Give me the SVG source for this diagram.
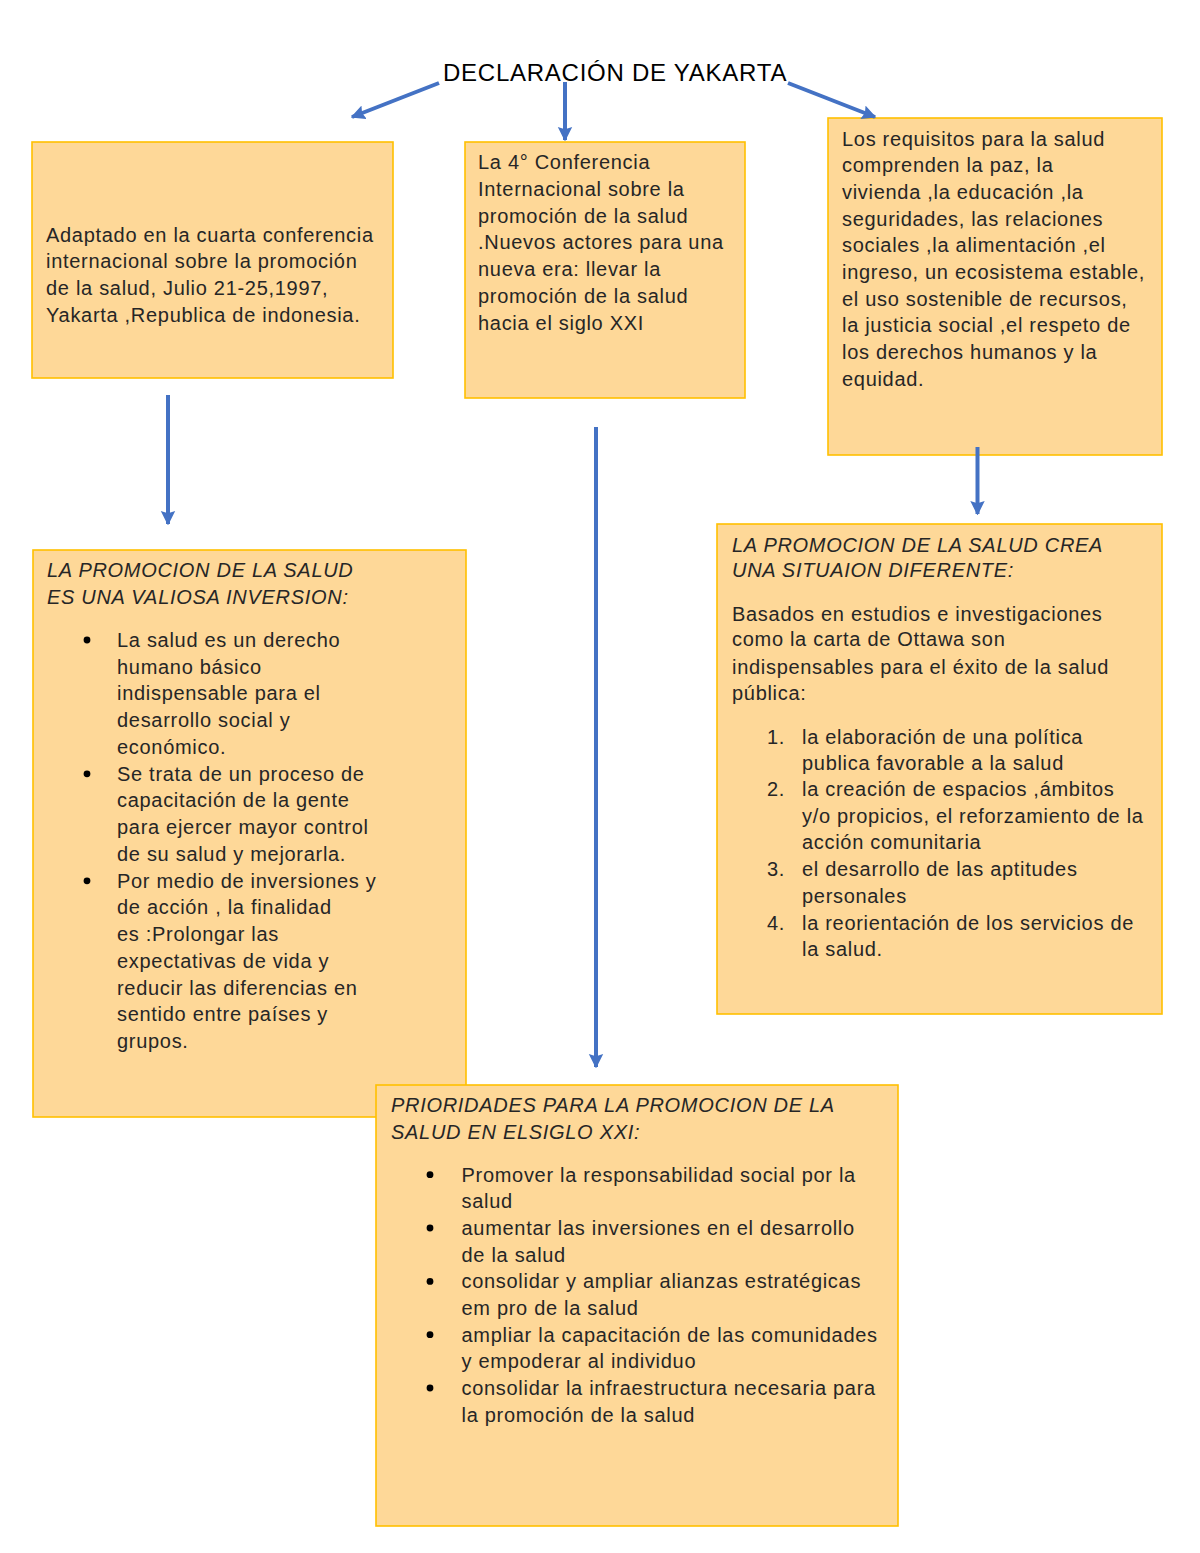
<svg xmlns="http://www.w3.org/2000/svg" width="1200" height="1553" viewBox="0 0 1200 1553">
<style>
.bx{fill:#FED898;stroke:#FFC000;stroke-width:1.6}
.t{font-family:"Liberation Sans",Arial,sans-serif;font-size:20px;letter-spacing:0.7px;fill:#262626}
.i{font-style:italic}
.ttl{font-family:"Liberation Sans",Arial,sans-serif;font-size:24px;letter-spacing:0.75px;fill:#000}
.ar{stroke:#4472C4;stroke-width:4;fill:none;marker-end:url(#ah)}
.dot{fill:#000}
</style>
<defs>
<marker id="ah" viewBox="0 0 10 10" refX="9" refY="5" markerWidth="3.6" markerHeight="3.8" markerUnits="strokeWidth" orient="auto">
<path d="M0,0 L10,5 L0,10 L1.5,5 z" fill="#4472C4"/>
</marker>
</defs>
<rect width="1200" height="1553" fill="#fff"/>

<g id="title">
<text class="ttl" x="443" y="81">DECLARACIÓN DE YAKARTA</text>
</g>

<g id="node-adaptado">
<rect class="bx" x="32" y="142" width="361" height="236"/>
<text class="t" x="46" y="241.7">Adaptado en la cuarta conferencia</text>
<text class="t" x="46" y="268.4">internacional sobre la promoción</text>
<text class="t" x="46" y="295.1">de la salud, Julio 21-25,1997,</text>
<text class="t" x="46" y="321.8">Yakarta ,Republica de indonesia.</text>
</g>

<g id="node-conferencia">
<rect class="bx" x="465" y="142" width="280" height="256"/>
<text class="t" x="478" y="169.3">La 4° Conferencia</text>
<text class="t" x="478" y="196">Internacional sobre la</text>
<text class="t" x="478" y="222.7">promoción de la salud</text>
<text class="t" x="478" y="249.4">.Nuevos actores para una</text>
<text class="t" x="478" y="276.1">nueva era: llevar la</text>
<text class="t" x="478" y="302.8">promoción de la salud</text>
<text class="t" x="478" y="329.5">hacia el siglo XXI</text>
</g>

<g id="node-requisitos">
<rect class="bx" x="828" y="118" width="334" height="337"/>
<text class="t" x="842" y="145.7">Los requisitos para la salud</text>
<text class="t" x="842" y="172.4">comprenden la paz, la</text>
<text class="t" x="842" y="199">vivienda ,la educación ,la</text>
<text class="t" x="842" y="225.7">seguridades, las relaciones</text>
<text class="t" x="842" y="252.4">sociales ,la alimentación ,el</text>
<text class="t" x="842" y="279">ingreso, un ecosistema estable,</text>
<text class="t" x="842" y="305.7">el uso sostenible de recursos,</text>
<text class="t" x="842" y="332.4">la justicia social ,el respeto de</text>
<text class="t" x="842" y="359">los derechos humanos y la</text>
<text class="t" x="842" y="385.7">equidad.</text>
</g>

<g id="node-inversion">
<rect class="bx" x="33" y="550" width="433" height="567"/>
<text class="t i" x="47" y="577.3">LA PROMOCION DE LA SALUD</text>
<text class="t i" x="47" y="604">ES UNA VALIOSA INVERSION:</text>
<circle class="dot" cx="87" cy="640" r="3.4"/>
<circle class="dot" cx="87" cy="773.8" r="3.4"/>
<circle class="dot" cx="87" cy="880.8" r="3.4"/>
<text class="t" x="117" y="646.7">La salud es un derecho</text>
<text class="t" x="117" y="673.5">humano básico</text>
<text class="t" x="117" y="700.2">indispensable para el</text>
<text class="t" x="117" y="727">desarrollo social y</text>
<text class="t" x="117" y="753.7">económico.</text>
<text class="t" x="117" y="780.5">Se trata de un proceso de</text>
<text class="t" x="117" y="807.2">capacitación de la gente</text>
<text class="t" x="117" y="834">para ejercer mayor control</text>
<text class="t" x="117" y="860.7">de su salud y mejorarla.</text>
<text class="t" x="117" y="887.5">Por medio de inversiones y</text>
<text class="t" x="117" y="914.2">de acción , la finalidad</text>
<text class="t" x="117" y="941">es :Prolongar las</text>
<text class="t" x="117" y="967.7">expectativas de vida y</text>
<text class="t" x="117" y="994.5">reducir las diferencias en</text>
<text class="t" x="117" y="1021.2">sentido entre países y</text>
<text class="t" x="117" y="1048">grupos.</text>
</g>

<g id="node-situacion">
<rect class="bx" x="717" y="524" width="445" height="490"/>
<text class="t i" x="732" y="551.5">LA PROMOCION DE LA SALUD CREA</text>
<text class="t i" x="732" y="576.5">UNA SITUAION DIFERENTE:</text>
<text class="t" x="732" y="621">Basados en estudios e investigaciones</text>
<text class="t" x="732" y="646">como la carta de Ottawa son</text>
<text class="t" x="732" y="674">indispensables para el éxito de la salud</text>
<text class="t" x="732" y="700">pública:</text>
<text class="t" x="767" y="744">1.</text>
<text class="t" x="802" y="744">la elaboración de una política</text>
<text class="t" x="802" y="769.5">publica favorable a la salud</text>
<text class="t" x="767" y="796">2.</text>
<text class="t" x="802" y="796">la creación de espacios ,ámbitos</text>
<text class="t" x="802" y="823">y/o propicios, el reforzamiento de la</text>
<text class="t" x="802" y="849">acción comunitaria</text>
<text class="t" x="767" y="876">3.</text>
<text class="t" x="802" y="876">el desarrollo de las aptitudes</text>
<text class="t" x="802" y="903">personales</text>
<text class="t" x="767" y="929.5">4.</text>
<text class="t" x="802" y="929.5">la reorientación de los servicios de</text>
<text class="t" x="802" y="956">la salud.</text>
</g>

<g id="node-prioridades">
<rect class="bx" x="376" y="1085" width="522" height="441"/>
<text class="t i" x="391" y="1112">PRIORIDADES PARA LA PROMOCION DE LA</text>
<text class="t i" x="391" y="1139">SALUD EN ELSIGLO XXI:</text>
<circle class="dot" cx="430" cy="1174.7" r="3.4"/>
<circle class="dot" cx="430" cy="1228" r="3.4"/>
<circle class="dot" cx="430" cy="1281.4" r="3.4"/>
<circle class="dot" cx="430" cy="1334.7" r="3.4"/>
<circle class="dot" cx="430" cy="1388" r="3.4"/>
<text class="t" x="461.5" y="1181.7">Promover la responsabilidad social por la</text>
<text class="t" x="461.5" y="1208.4">salud</text>
<text class="t" x="461.5" y="1235">aumentar las inversiones en el desarrollo</text>
<text class="t" x="461.5" y="1261.7">de la salud</text>
<text class="t" x="461.5" y="1288.4">consolidar y ampliar alianzas estratégicas</text>
<text class="t" x="461.5" y="1315">em pro de la salud</text>
<text class="t" x="461.5" y="1341.7">ampliar la capacitación de las comunidades</text>
<text class="t" x="461.5" y="1368.4">y empoderar al individuo</text>
<text class="t" x="461.5" y="1395">consolidar la infraestructura necesaria para</text>
<text class="t" x="461.5" y="1421.7">la promoción de la salud</text>
</g>

<g id="connectors">
<line class="ar" x1="439" y1="83" x2="352" y2="117"/>
<line class="ar" x1="565" y1="82" x2="565" y2="140"/>
<line class="ar" x1="788" y1="83" x2="875" y2="117"/>
<line class="ar" x1="168" y1="395" x2="168" y2="524"/>
<line class="ar" x1="596" y1="427" x2="596" y2="1067"/>
<line class="ar" x1="977.5" y1="447" x2="977.5" y2="514"/>
</g>
</svg>
